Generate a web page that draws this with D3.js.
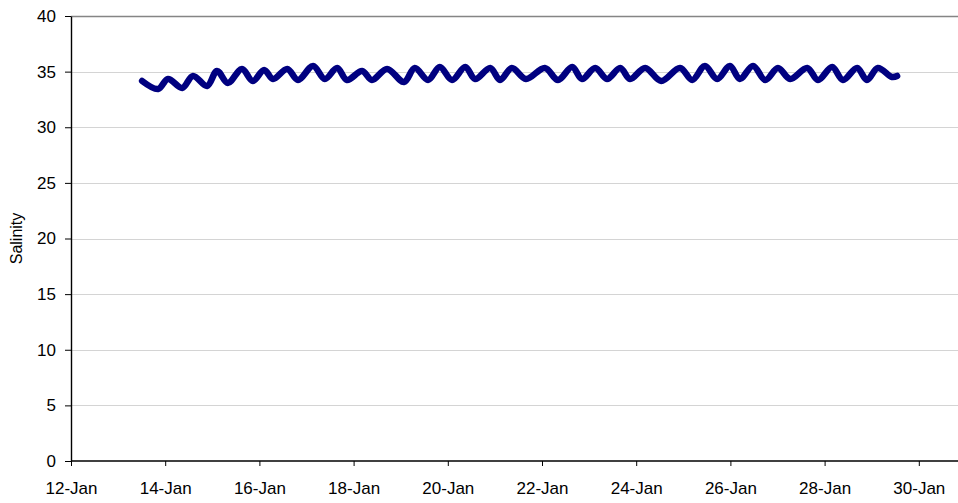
<!DOCTYPE html>
<html>
<head>
<meta charset="utf-8">
<script src="https://cdn.jsdelivr.net/npm/d3@7/dist/d3.min.js"></script>
<style>
  html, body { margin: 0; padding: 0; background: #fff; }
  svg { display: block; }
  text { font-family: "Liberation Sans", Arial, sans-serif; fill: #000; }
</style>
</head>
<body>
<svg id="chart" width="958" height="503"></svg>
<script>
// Time (day of January, fractional) of each turning point of the salinity trace
const days = [13.51, 13.85, 14.06, 14.36, 14.59, 14.89, 15.10, 15.33, 15.63, 15.86,
  16.10, 16.29, 16.59, 16.82, 17.14, 17.39, 17.65, 17.86, 18.18, 18.39,
  18.71, 19.07, 19.30, 19.58, 19.83, 20.09, 20.37, 20.58, 20.90, 21.11,
  21.36, 21.66, 22.06, 22.34, 22.64, 22.85, 23.13, 23.38, 23.66, 23.87,
  24.19, 24.53, 24.93, 25.19, 25.46, 25.72, 25.99, 26.20, 26.48, 26.74,
  27.01, 27.27, 27.63, 27.86, 28.16, 28.39, 28.69, 28.90, 29.13, 29.43, 29.54];
const salinity = [34.16, 33.44, 34.34, 33.53, 34.61, 33.71, 35.06, 33.98, 35.24, 34.16,
  35.15, 34.34, 35.24, 34.25, 35.51, 34.34, 35.33, 34.25, 35.06, 34.25,
  35.24, 34.07, 35.33, 34.25, 35.42, 34.25, 35.42, 34.34, 35.33, 34.25,
  35.33, 34.34, 35.33, 34.25, 35.42, 34.34, 35.33, 34.34, 35.33, 34.34,
  35.33, 34.16, 35.33, 34.25, 35.51, 34.34, 35.51, 34.34, 35.51, 34.25,
  35.33, 34.34, 35.33, 34.25, 35.42, 34.25, 35.33, 34.25, 35.33, 34.52, 34.61];
const xTickDays = [12, 14, 16, 18, 20, 22, 24, 26, 28, 30];
const yTicks = [0, 5, 10, 15, 20, 25, 30, 35, 40];
const yTitle = "Salinity";

const toDate = d => new Date(Date.UTC(2007, 0, 1) + (d - 1) * 864e5);
const data = days.map((d, i) => ({ t: toDate(d), v: salinity[i] }));

const W = 958, H = 503;
const L = 71, T = 16, B = 461;
const svg = d3.select("#chart");

const x = d3.scaleUtc().domain([toDate(12), toDate(31)]).range([L, L + 19 * 47.1]);
const y = d3.scaleLinear().domain([0, 40]).range([B, T]);

// gridlines
svg.append("g").selectAll("line").data(yTicks.filter(v => v > 0)).join("line")
  .attr("x1", L).attr("x2", W)
  .attr("y1", d => Math.round(y(d)) + 0.5).attr("y2", d => Math.round(y(d)) + 0.5)
  .attr("stroke", d => d === 40 ? "#858585" : "#d4d4d4")
  .attr("stroke-width", d => d === 40 ? 1.6 : 1);

// y axis
const yAxis = d3.axisLeft(y).tickValues(yTicks).tickSize(6).tickPadding(9).tickSizeOuter(0);
const gy = svg.append("g").attr("transform", `translate(${L},0)`).call(yAxis);
gy.select(".domain").attr("stroke", "#000").attr("stroke-width", 1.4);
gy.selectAll(".tick line").attr("stroke", "#000");
gy.selectAll(".tick text").attr("font-size", 17).attr("font-family", "Liberation Sans, Arial, sans-serif").attr("fill", "#000");

// x axis
const xAxis = d3.axisBottom(x).tickValues(xTickDays.map(toDate))
  .tickFormat(d3.utcFormat("%-d-%b")).tickSize(5).tickPadding(16).tickSizeOuter(0);
const gx = svg.append("g").attr("transform", `translate(0,${B})`).call(xAxis);
gx.select(".domain").remove();
gx.append("line").attr("x1", L).attr("x2", W).attr("y1", 0).attr("y2", 0)
  .attr("stroke", "#000").attr("stroke-width", 1.4);
gx.selectAll(".tick line").attr("stroke", "#000");
gx.selectAll(".tick text").attr("font-size", 17).attr("font-family", "Liberation Sans, Arial, sans-serif").attr("fill", "#000");

// y title
svg.append("text")
  .attr("transform", `translate(22,${(T + B) / 2}) rotate(-90)`)
  .attr("text-anchor", "middle")
  .attr("font-size", 16)
  .text(yTitle);

// series
const line = d3.line().x(d => x(d.t)).y(d => y(d.v)).curve(d3.curveCatmullRom.alpha(0.5));
svg.append("path").datum(data)
  .attr("d", line)
  .attr("fill", "none")
  .attr("stroke", "#000080")
  .attr("stroke-width", 6.5)
  .attr("stroke-linecap", "round")
  .attr("stroke-linejoin", "round");
</script>
</body>
</html>
